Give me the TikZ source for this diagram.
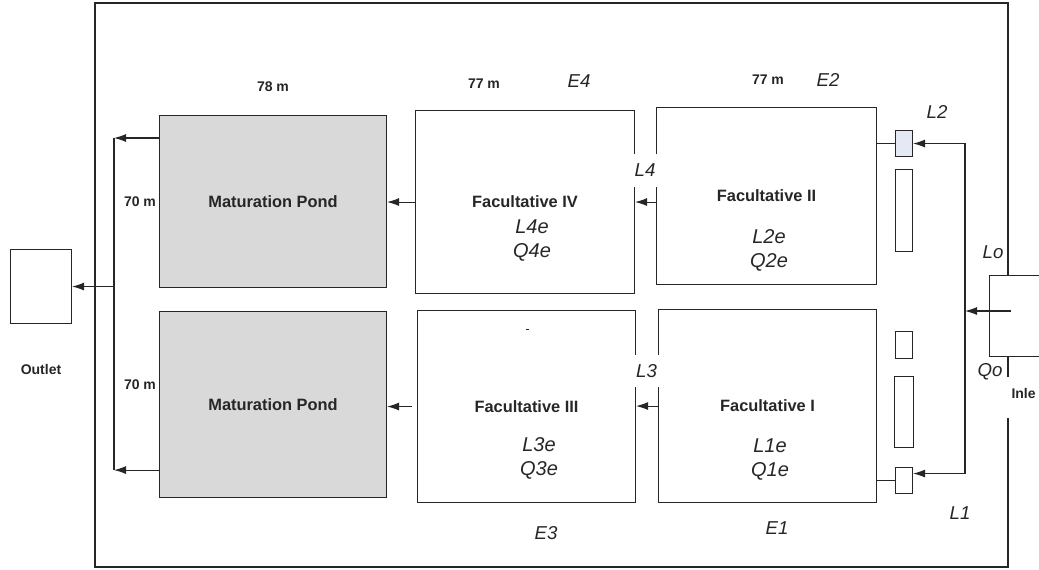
\documentclass[tikz,border=0pt]{standalone}
\usepackage{fontspec}
\setmainfont{Liberation Sans}
\usetikzlibrary{arrows.meta}

\definecolor{pondgray}{HTML}{D9D9D9}
\definecolor{gateblue}{HTML}{E4E9F5}

\begin{document}
\begin{tikzpicture}[x=0.75pt,y=-0.75pt,black!85,line width=0.8pt,
    pond/.style={draw, fill=pondgray, anchor=north west, inner sep=0pt, font=\bfseries\fontsize{12.3}{14}\selectfont},
    fac/.style={draw, anchor=north west, inner sep=0pt, font=\bfseries\fontsize{12.3}{14}\selectfont},
    gate/.style={draw, fill=white, anchor=north west, inner sep=0pt, minimum width=12.75pt},
    dim/.style={font=\bfseries\fontsize{10.5}{12}\selectfont},
    var/.style={font=\itshape\fontsize{14}{16}\selectfont},
    eff/.style={font=\itshape\fontsize{15}{18}\selectfont, align=center},
    gap/.style={var, fill=white, inner sep=0pt},
    flow/.style={-{Latex[length=9pt,width=6pt]}},
    both/.style={{Latex[length=9pt,width=6pt]}-{Latex[length=9pt,width=6pt]}}]

    \useasboundingbox (0,0) rectangle (1039,569);

    \node[pond, minimum width=170.25pt, minimum height=129pt] (mp1) at (159,115) {Maturation Pond};
    \node[pond, minimum width=170.25pt, minimum height=139.5pt] (mp2) at (159,311) {Maturation Pond};
    \node[fac, minimum width=164.25pt, minimum height=137.25pt] (f4) at (415,110) {Facultative IV};
    \node[fac, minimum width=163.5pt, minimum height=144pt] (f3) at (417,310) {Facultative III};
    \node[fac, minimum width=165pt, minimum height=132.75pt] (f2) at (656,107) {Facultative II};
    \node[fac, minimum width=163.5pt, minimum height=144.75pt] (f1) at (658,309) {Facultative I};

    \node[draw, anchor=north west, minimum width=45.75pt, minimum height=55.5pt] (outlet) at (10,249) {};
    \node[draw, anchor=north west, minimum width=60pt, minimum height=60.75pt] (inlet) at (989,275) {};

    \node[gate, fill=gateblue, minimum height=19.5pt] (g2) at (895,130) {};
    \node[gate, minimum height=61.5pt] (bar2) at (895,169) {};
    \node[gate, minimum height=20.25pt] (sq1) at (895,331) {};
    \node[gate, minimum width=14.25pt, minimum height=53.25pt] (bar1) at (894,376) {};
    \node[gate, minimum height=19.5pt] (g1) at (895,467) {};

    \draw (1008,275) -- (1008,3) -- (95,3) -- (95,567) -- (1008,567) -- (1008,418);
    \draw (1008,356) -- (1008,377);

    \node[eff] (f4e) at (532,241) {L4e\\Q4e};
    \node[eff] (f3e) at (539,458.5) {L3e\\Q3e};
    \node[eff] (f2e) at (769,250) {L2e\\Q2e};
    \node[eff] (f1e) at (770,459.5) {L1e\\Q1e};
    \draw[line width=0.5pt] (526,329) -- (528.5,329);

    \node[gap, minimum width=18pt, minimum height=24.75pt] (l4) at (645,170.5) {L4};
    \node[gap, minimum width=19.5pt, minimum height=24pt] (l3) at (646.5,371) {L3};

    \node[dim] (w1) at (273,87) {78 m};
    \node[dim] (w2) at (484,84) {77 m};
    \node[dim] (w3) at (768,80) {77 m};
    \node[dim] (h1) at (140,202) {70 m};
    \node[dim] (h2) at (140,385) {70 m};
    \node[dim] (outlab) at (41,369) {Outlet};
    \node[dim, anchor=west, inner sep=0pt] (inlab) at (1011,393) {Inle};

    \node[var] (e4) at (579,81) {E4};
    \node[var] (e2) at (828,80) {E2};
    \node[var] (e3) at (546,533) {E3};
    \node[var] (e1) at (777,528) {E1};
    \node[var] (l2) at (937,112) {L2};
    \node[var] (l1) at (960,513) {L1};
    \node[var] (lo) at (993,252) {Lo};
    \node[var] (qo) at (990,372) {Qo};

    \coordinate (busL) at (114,287);
    \coordinate (busR) at (965,311);
    \coordinate (inletin) at (1011,311);
    \coordinate (mp1out) at ([yshift=-17.25pt]mp1.north west);
    \coordinate (mp2out) at ([yshift=21pt]mp2.south west);
    \coordinate (g1in) at ([yshift=5.25pt]g1.east);

    \draw[flow] (inletin) -- (busR);
    \draw[both] (g2.east) -- (g2.east -| busR) -- (g1in -| busR) -- (g1in);
    \draw (f2.east |- g2.west) -- (g2.west);
    \draw (f1.east |- g1.west) -- (g1.west);

    \draw[flow] (f4.east -| f2.west) -- (f4.east);
    \draw[flow] (f1.west) -- (f1.west -| f3.east);
    \draw[flow] (f4.west) -- (f4.west -| mp1.east);
    \draw[flow] ([xshift=-3.75pt]f3.west) -- (f3.west -| mp2.east);

    \draw[flow] (mp1out) -- (mp1out -| busL);
    \draw[flow] (mp2out) -- (mp2out -| busL);
    \draw (mp1out -| busL) -- (mp2out -| busL);
    \draw[flow] (busL |- outlet.east) -- (outlet.east);
\end{tikzpicture}
\end{document}
